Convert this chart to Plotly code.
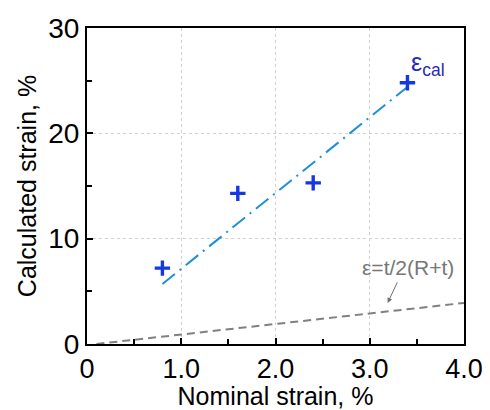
import plotly.graph_objects as go

# data
nominal = [0.8, 1.6, 2.4, 3.4]
calculated = [7.2, 14.3, 15.3, 24.8]
fit_x = [0.8, 3.4]
fit_y = [5.7, 24.4]
theory_x = [0.1, 4.0]
theory_y = [0.0, 3.9]
x_ticks = [0, 1, 2, 3, 4]
x_labels = ["0", "1.0", "2.0", "3.0", "4.0"]
y_ticks = [0, 10, 20, 30]
y_labels = ["0", "10", "20", "30"]

FONT = "Liberation Sans, Arial"

fig = go.Figure()
fig.add_trace(go.Scatter(x=theory_x, y=theory_y, mode="lines",
                         line=dict(color="#808080", width=2, dash="8px,5px"),
                         showlegend=False))
fig.add_trace(go.Scatter(x=fit_x, y=fit_y, mode="lines",
                         line=dict(color="#1f8fd6", width=2, dash="16px,6px,2px,6px"),
                         showlegend=False))
fig.add_trace(go.Scatter(x=nominal, y=calculated, mode="markers",
                         marker=dict(symbol="cross-thin", size=11, color="#1538e0",
                                     line=dict(width=3.4, color="#1538e0")),
                         showlegend=False))

fig.add_annotation(x=3.42, y=24.9, xref="x", yref="y", text="ε<sub>cal</sub>",
                   showarrow=False, xanchor="left", yanchor="bottom",
                   font=dict(family=FONT, size=25, color="#2a2ab8"))
fig.add_annotation(x=3.19, y=3.9, ax=3.30, ay=6.0, xref="x", yref="y", axref="x", ayref="y",
                   text="", showarrow=True, arrowhead=2, arrowsize=1, arrowwidth=1,
                   arrowcolor="#707070")
fig.add_annotation(x=3.41, y=7.3, xref="x", yref="y", text="ε=t/2(R+t)",
                   showarrow=False, xanchor="center", yanchor="middle",
                   font=dict(family=FONT, size=21, color="#777777"))

axis_common = dict(showline=True, linecolor="black", linewidth=2, mirror=True,
                   ticks="inside", tickcolor="black", tickwidth=1.5, ticklen=6,
                   showgrid=True, gridcolor="#d0d0d0", griddash="dot", gridwidth=1,
                   zeroline=False, automargin=False,
                   tickfont=dict(family=FONT, size=28, color="black"))

fig.update_xaxes(range=[0, 4], tickvals=x_ticks, ticktext=x_labels,
                 tickfont=dict(family=FONT, size=27, color="black"),
                 minor=dict(dtick=0.5, ticks="inside", ticklen=5, tickcolor="black",
                            showgrid=False),
                 title=dict(text="Nominal strain, %", standoff=9,
                            font=dict(family=FONT, size=25, color="black")),
                 **{k: v for k, v in axis_common.items() if k != "tickfont"})
fig.update_yaxes(range=[0, 30], tickvals=y_ticks, ticktext=y_labels,
                 minor=dict(dtick=5, ticks="inside", ticklen=5, tickcolor="black",
                            showgrid=False),
                 title=dict(text="Calculated strain, %", standoff=4,
                            font=dict(family=FONT, size=25, color="black")),
                 **axis_common)

# page body has an 8px margin, so the figure is sized/offset to compensate
fig.update_layout(width=482, height=402, margin=dict(l=79, r=26, t=20, b=66),
                  plot_bgcolor="white", paper_bgcolor="white")
fig.write_html("out.html")
